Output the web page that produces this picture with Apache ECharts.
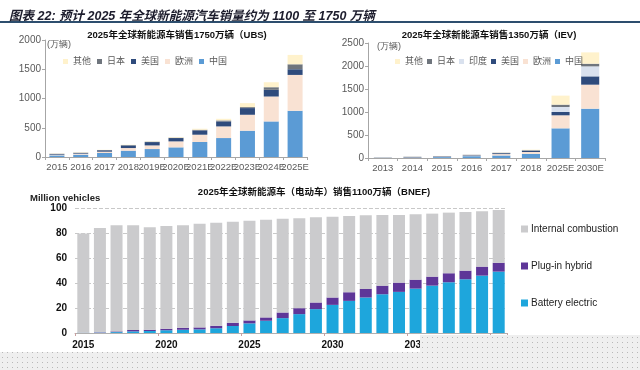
<!DOCTYPE html>
<html><head><meta charset="utf-8">
<script src="https://cdn.jsdelivr.net/npm/echarts@6/dist/echarts.min.js"></script>
<style>html,body{margin:0;padding:0;background:#fff}#c{width:640px;height:370px}</style>
</head><body><div id="c"></div>
<script>
// ---- UBS ----
const ubsCats = ['2015','2016','2017','2018','2019E','2020E','2021E','2022E','2023E','2024E','2025E'];
const ubsChina  = [28,40,68,108,136,165,256,324,449,608,790];
const ubsEurope = [10,17,23,45,62,102,125,199,273,426,613];
const ubsUS     = [11,11,23,45,57,57,74,85,114,114,97];
const ubsJapan  = [6,6,6,6,6,6,11,17,17,45,85];
const ubsOther  = [5,6,3,6,6,11,17,28,68,85,160];
const ubsTicks = [0,500,1000,1500,2000];
// ---- IEV ----
const ievCats = ['2013','2014','2015','2016','2017','2018','2025E','2030E'];
const ievChina  = [2,5,20,40,55,90,645,1072];
const ievEurope = [3,8,12,15,30,40,283,522];
const ievUS     = [4,10,8,10,20,30,72,181];
const ievIndia  = [0,0,0,1,2,3,109,217];
const ievJapan  = [2,4,3,4,6,8,51,58];
const ievOther  = [1,2,2,2,5,10,196,246];
const ievTicks = [0,500,1000,1500,2000,2500];
// ---- BNEF ----
const bnefYears = ['2015','2016','2017','2018','2019','2020','2021','2022','2023','2024','2025','2026','2027',
  '2028','2029','2030','2031','2032','2033','2034','2035','2036','2037','2038','2039','2040'];
const bnefBEV  = [0.2,0.3,0.7,1.3,1.6,2.2,2.6,2.9,3.8,5.6,7.7,9.8,11.9,15.1,19.1,22.5,25.7,28.4,31.0,32.9,35.5,37.9,40.6,43.0,45.9,49.1];
const bnefPHEV = [0.1,0.3,0.6,1.1,1.0,1.2,1.6,1.6,2.0,2.6,2.4,2.7,4.5,4.8,5.3,5.9,6.9,6.9,6.9,7.4,7.2,7.2,7.2,6.9,7.2,7.1];
const bnefICE  = [79.3,83.5,84.9,83.8,82.0,82.3,82.0,83.0,82.5,80.8,79.8,78.2,75.1,71.9,68.2,64.7,61.0,58.9,56.5,54.1,52.3,50.4,48.5,46.9,44.3,42.2];
const bnefTicks = [0,20,40,60,80,100];

const FONT = "'Liberation Sans','Noto Sans CJK SC',sans-serif";
const C = {china:'#5b9bd5', europe:'#f9e2d3', us:'#2f4b7c', japan:'#6f757d', other:'#fff2cc', india:'#d9e1ee',
  ice:'#cbcbcd', phev:'#5e3698', bev:'#1ea6dc'};

const chart = echarts.init(document.getElementById('c'), null, {renderer:'canvas'});

// dotted pattern
const pc = document.createElement('canvas'); pc.width = 5; pc.height = 5;
const pctx = pc.getContext('2d');
pctx.fillStyle = '#efefef'; pctx.fillRect(0,0,5,5);
pctx.fillStyle = '#b8b8b8'; pctx.fillRect(2,2,1,1);

function bar(name, data, x, stack, color, bw){
  return {type:'bar', name, data, xAxisIndex:x, yAxisIndex:x, stack, barWidth:bw,
    itemStyle:{color}, emphasis:{disabled:true}, animation:false};
}
const smallAxisX = (gi, cats) => ({gridIndex:gi, type:'category', data:cats,
  axisLine:{lineStyle:{color:'#a6a6a6'}}, axisTick:{show:true, length:3, lineStyle:{color:'#a6a6a6'}},
  axisLabel:{interval:0, color:'#595959', fontSize:9.5, fontFamily:FONT, margin:6}});
const smallAxisY = (gi, ticks) => ({gridIndex:gi, type:'value', min:ticks[0], max:ticks[ticks.length-1], interval:ticks[1]-ticks[0],
  axisLine:{show:true, lineStyle:{color:'#a6a6a6'}}, axisTick:{show:true, length:3, lineStyle:{color:'#a6a6a6'}},
  splitLine:{show:false}, axisLabel:{color:'#595959', fontSize:10, fontFamily:FONT, margin:4, formatter:v=>String(v)}});

chart.setOption({
  animation:false,
  textStyle:{fontFamily:FONT},
  title:[
    {text:'图表 22: 预计 2025 年全球新能源汽车销量约为 1100 至 1750 万辆', left:4, top:5,
      textStyle:{fontSize:12.5, fontWeight:'bold', fontStyle:'italic', color:'#1c1c2c', fontFamily:FONT}},
    {text:'2025年全球新能源车销售1750万辆（UBS)', left:172, top:26, textAlign:'center',
      textStyle:{fontSize:9.5, fontWeight:'bold', color:'#111', fontFamily:FONT}},
    {text:'2025年全球新能源车销售1350万辆（IEV)', left:484, top:26, textAlign:'center',
      textStyle:{fontSize:9.5, fontWeight:'bold', color:'#111', fontFamily:FONT}},
    {text:'2025年全球新能源车（电动车）销售1100万辆（BNEF)', left:309, top:183, textAlign:'center',
      textStyle:{fontSize:9.5, fontWeight:'bold', color:'#111', fontFamily:FONT}},
    {text:'Million vehicles', left:25, top:189,
      textStyle:{fontSize:9.5, fontWeight:'bold', color:'#222', fontFamily:FONT}}
  ],
  legend:[
    {data:['其他','日本','美国','欧洲','中国'], left:58, top:52, itemWidth:5, itemHeight:5, itemGap:6, icon:'rect',
      textStyle:{fontSize:9, color:'#595959', fontFamily:FONT}, selectedMode:false},
    {data:['其他','日本','印度','美国','欧洲','中国'], left:390, top:52, itemWidth:5, itemHeight:5, itemGap:4, icon:'rect',
      textStyle:{fontSize:9, color:'#595959', fontFamily:FONT}, selectedMode:false},
    {data:['Internal combustion','Plug-in hybrid','Battery electric'], orient:'vertical', left:516, top:219,
      itemWidth:7, itemHeight:7, itemGap:27, icon:'rect',
      textStyle:{fontSize:10, color:'#222', fontFamily:FONT, padding:[0,0,0,-2]}, selectedMode:false}
  ],
  grid:[
    {left:45, top:40, width:262, height:117},
    {left:368, top:43, width:237, height:115},
    {left:75, top:208, width:432, height:125}
  ],
  xAxis:[
    smallAxisX(0, ubsCats),
    smallAxisX(1, ievCats),
    {gridIndex:2, type:'category', data:bnefYears,
      axisLine:{lineStyle:{color:'#b0b0b0'}}, axisTick:{show:true, length:3, lineStyle:{color:'#c9a0a0'}},
      axisLabel:{interval:4, color:'#111', fontSize:10, fontWeight:'bold', fontFamily:FONT, margin:7}}
  ],
  yAxis:[
    smallAxisY(0, ubsTicks),
    smallAxisY(1, ievTicks),
    {gridIndex:2, type:'value', min:bnefTicks[0], max:bnefTicks[bnefTicks.length-1], interval:bnefTicks[1]-bnefTicks[0],
      axisLine:{show:false}, axisTick:{show:false},
      splitLine:{show:true, lineStyle:{color:'#c8c8c8', type:[4,2]}},
      axisLabel:{color:'#111', fontSize:10, fontWeight:'bold', fontFamily:FONT, margin:8}}
  ],
  series:[
    bar('中国', ubsChina, 0, 'ubs', C.china, '63%'),
    bar('欧洲', ubsEurope, 0, 'ubs', C.europe, '63%'),
    bar('美国', ubsUS, 0, 'ubs', C.us, '63%'),
    bar('日本', ubsJapan, 0, 'ubs', C.japan, '63%'),
    bar('其他', ubsOther, 0, 'ubs', C.other, '63%'),
    bar('中国', ievChina, 1, 'iev', C.china, '61%'),
    bar('欧洲', ievEurope, 1, 'iev', C.europe, '61%'),
    bar('美国', ievUS, 1, 'iev', C.us, '61%'),
    bar('印度', ievIndia, 1, 'iev', C.india, '61%'),
    bar('日本', ievJapan, 1, 'iev', C.japan, '61%'),
    bar('其他', ievOther, 1, 'iev', C.other, '61%'),
    bar('Battery electric', bnefBEV, 2, 'bnef', C.bev, 12),
    bar('Plug-in hybrid', bnefPHEV, 2, 'bnef', C.phev, 12),
    bar('Internal combustion', bnefICE, 2, 'bnef', C.ice, 12)
  ],
  graphic:[
    {type:'line', shape:{x1:0, y1:22, x2:640, y2:22}, style:{stroke:'#2d4e6e', lineWidth:2}},
    {type:'text', left:47, top:40, style:{text:'(万辆)', fontSize:9, fill:'#595959', font:'9px '+FONT}},
    {type:'text', left:377, top:42, style:{text:'(万辆)', fontSize:9, fill:'#595959', font:'9px '+FONT}},
    {type:'rect', shape:{x:0, y:352, width:640, height:18}, style:{fill:{image:pc, repeat:'repeat'}}, z:100},
    {type:'rect', shape:{x:420, y:335, width:220, height:17}, style:{fill:{image:pc, repeat:'repeat'}}, z:100}
  ]
});
</script></body></html>
